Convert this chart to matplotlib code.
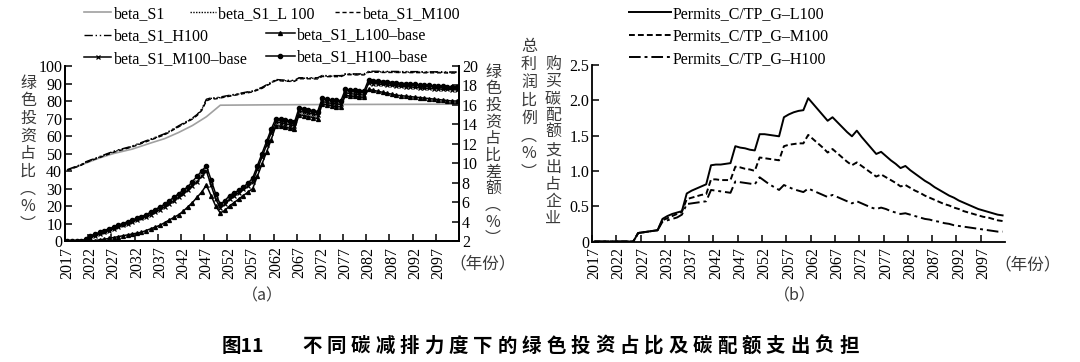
import matplotlib
matplotlib.use('Agg')
import matplotlib.pyplot as plt

W, H = 1080, 362
SERIF = ['Liberation Serif', 'DejaVu Serif']
CJK = ['Noto Sans CJK SC', 'DejaVu Sans']
plt.rcParams['font.family'] = SERIF

# ---------------- data ----------------
years = list(range(2017, 2102))
tick_years = list(range(2017, 2098, 5))
tick_labels = [str(y) for y in tick_years]

s1_years = [2017, 2020, 2024, 2027, 2031, 2035, 2038, 2041, 2044, 2047, 2050, 2060, 2075, 2090, 2101]
beta_S1 = [40.5, 43.5, 47.5, 50.0, 52.5, 56.0, 58.5, 62.0, 66.0, 71.0, 77.6, 77.8, 78.0, 78.1, 78.2]

beta_L100 = [40.5, 41.5, 42.5, 43.5, 45.0,
             46.0, 47.0, 48.0, 49.0, 50.0,
             51.0, 51.8, 52.5, 53.2, 54.0,
             55.0, 56.0, 57.0, 58.0, 59.0,
             60.0, 61.0, 62.5, 64.0, 65.5,
             67.0, 68.5, 70.0, 72.0, 75.0,
             80.5, 81.5, 81.5, 82.0, 82.5,
             83.0, 83.5, 84.0, 84.5, 85.0,
             85.5, 86.5, 87.5, 89.0, 90.5,
             92.0, 91.8, 91.6, 91.5, 91.5,
             93.0, 93.0, 93.0, 93.0, 93.0,
             94.3, 94.2, 94.2, 94.2, 94.2,
             95.3, 95.3, 95.2, 95.2, 95.2,
             96.7, 96.7, 96.7, 96.6, 96.6,
             96.6, 96.6, 96.5, 96.5, 96.5,
             96.5, 96.5, 96.4, 96.4, 96.4,
             96.4, 96.4, 96.3, 96.3, 96.3]
beta_M100 = [40.3, 41.3, 42.3, 43.3, 44.7,
             45.8, 46.8, 47.7, 48.7, 49.7,
             50.7, 51.5, 52.2, 53.0, 53.8,
             54.7, 55.7, 56.7, 57.7, 58.7,
             59.7, 60.7, 62.2, 63.7, 65.2,
             66.7, 68.2, 69.7, 71.7, 74.6,
             80.0, 81.2, 81.2, 81.7, 82.2,
             82.7, 83.2, 83.7, 84.2, 84.7,
             85.2, 86.2, 87.2, 88.7, 90.2,
             91.7, 91.5, 91.3, 91.2, 91.2,
             92.7, 92.7, 92.7, 92.6, 92.6,
             94.0, 93.9, 93.9, 93.9, 93.9,
             95.0, 95.0, 94.9, 94.9, 94.9,
             96.4, 96.4, 96.4, 96.3, 96.3,
             96.3, 96.3, 96.2, 96.2, 96.2,
             96.2, 96.2, 96.1, 96.1, 96.1,
             96.1, 96.1, 96.0, 96.0, 96.0]
beta_H100 = [40.8, 41.8, 42.8, 43.8, 45.3,
             46.3, 47.3, 48.3, 49.3, 50.3,
             51.3, 52.1, 52.8, 53.5, 54.3,
             55.3, 56.3, 57.3, 58.3, 59.3,
             60.3, 61.3, 62.8, 64.3, 65.8,
             67.3, 68.8, 70.3, 72.3, 75.4,
             81.0, 81.8, 81.8, 82.3, 82.8,
             83.3, 83.8, 84.3, 84.8, 85.3,
             85.8, 86.8, 87.8, 89.3, 90.8,
             92.3, 92.1, 91.9, 91.8, 91.8,
             93.3, 93.3, 93.3, 93.3, 93.3,
             94.6, 94.5, 94.5, 94.5, 94.5,
             95.6, 95.6, 95.5, 95.5, 95.5,
             97.0, 97.0, 97.0, 96.9, 96.9,
             96.9, 96.9, 96.8, 96.8, 96.8,
             96.8, 96.8, 96.7, 96.7, 96.7,
             96.7, 96.7, 96.6, 96.6, 96.6]

base_L100 = [2.0, 2.0, 2.0, 2.0, 2.0,
             2.0, 2.05, 2.13, 2.18, 2.27,
             2.36, 2.45, 2.54, 2.63, 2.72,
             2.81, 2.9, 3.08, 3.26, 3.44,
             3.62, 3.89, 4.16, 4.43, 4.7,
             5.06, 5.51, 5.96, 6.5, 7.04,
             7.76, 6.68, 5.6, 4.88, 5.15,
             5.6, 5.96, 6.32, 6.68, 7.04,
             7.4, 8.66, 9.92, 11.18, 12.44,
             13.88, 13.8, 13.7, 13.6, 13.5,
             15.0, 14.9, 14.8, 14.7, 14.6,
             16.1, 16.0, 15.9, 15.8, 15.8,
             17.0, 16.9, 16.9, 16.8, 16.8,
             17.6, 17.5, 17.4, 17.3, 17.2,
             17.1, 17.0, 16.95, 16.9, 16.85,
             16.8, 16.75, 16.7, 16.65, 16.6,
             16.55, 16.5, 16.45, 16.4, 16.4]
base_M100 = [2.0, 2.0, 2.0, 2.0, 2.09,
             2.36, 2.54, 2.72, 2.9, 3.08,
             3.26, 3.44, 3.62, 3.8, 3.98,
             4.16, 4.34, 4.52, 4.7, 4.97,
             5.24, 5.51, 5.78, 6.14, 6.5,
             6.86, 7.22, 7.67, 8.12, 8.66,
             9.2, 7.76, 6.32, 5.42, 5.78,
             6.32, 6.68, 6.95, 7.31, 7.67,
             8.12, 9.38, 10.64, 11.9, 13.16,
             14.24, 14.15, 14.05, 13.95, 13.85,
             15.35, 15.25, 15.15, 15.05, 14.95,
             16.35, 16.25, 16.15, 16.1, 16.05,
             17.25, 17.15, 17.1, 17.05, 17.0,
             18.3, 18.2, 18.15, 18.1, 18.05,
             18.0, 17.95, 17.9, 17.85, 17.85,
             17.8, 17.75, 17.7, 17.7, 17.65,
             17.65, 17.6, 17.6, 17.55, 17.55]
base_H100 = [2.0, 2.0, 2.0, 2.0, 2.18,
             2.54, 2.72, 2.9, 3.08, 3.26,
             3.44, 3.62, 3.8, 3.98, 4.16,
             4.34, 4.52, 4.7, 4.97, 5.24,
             5.51, 5.78, 6.14, 6.5, 6.86,
             7.22, 7.58, 8.12, 8.66, 9.2,
             9.74, 8.3, 6.86, 5.78, 6.14,
             6.68, 6.95, 7.22, 7.58, 7.94,
             8.48, 9.74, 11.0, 12.26, 13.52,
             14.6, 14.5, 14.4, 14.3, 14.2,
             15.7, 15.6, 15.5, 15.4, 15.3,
             16.7, 16.6, 16.5, 16.5, 16.4,
             17.6, 17.5, 17.5, 17.4, 17.4,
             18.6, 18.5, 18.5, 18.4, 18.4,
             18.3, 18.3, 18.2, 18.2, 18.1,
             18.1, 18.0, 18.0, 18.0, 17.9,
             17.9, 17.9, 17.8, 17.8, 17.8]

permits_L100 = [0, 0, 0, 0, 0,
                0, 0, 0, 0, 0.12,
                0.13, 0.14, 0.15, 0.16, 0.32,
                0.36, 0.39, 0.41, 0.43, 0.68,
                0.72, 0.75, 0.78, 0.81, 1.08,
                1.09, 1.09, 1.10, 1.11, 1.35,
                1.33, 1.32, 1.30, 1.29, 1.52,
                1.52, 1.51, 1.50, 1.49, 1.76,
                1.80, 1.83, 1.85, 1.86, 2.03,
                1.95, 1.87, 1.79, 1.71, 1.76,
                1.69, 1.62, 1.55, 1.49, 1.57,
                1.48, 1.40, 1.32, 1.24, 1.27,
                1.21, 1.15, 1.10, 1.04, 1.07,
                1.01, 0.96, 0.91, 0.86, 0.82,
                0.77, 0.73, 0.69, 0.65, 0.62,
                0.58, 0.55, 0.52, 0.49, 0.46,
                0.44, 0.42, 0.40, 0.38, 0.37]
permits_M100 = [0, 0, 0, 0, 0,
                0, 0, 0, 0, 0.12,
                0.13, 0.14, 0.15, 0.16, 0.30,
                0.33, 0.36, 0.39, 0.42, 0.60,
                0.62, 0.64, 0.66, 0.67, 0.88,
                0.88, 0.87, 0.87, 0.87, 1.06,
                1.05, 1.03, 1.02, 1.00, 1.19,
                1.18, 1.17, 1.16, 1.15, 1.35,
                1.37, 1.38, 1.39, 1.39, 1.51,
                1.45, 1.39, 1.33, 1.26, 1.31,
                1.25, 1.19, 1.13, 1.08, 1.12,
                1.07, 1.02, 0.97, 0.92, 0.95,
                0.91, 0.87, 0.83, 0.78, 0.80,
                0.76, 0.72, 0.69, 0.65, 0.62,
                0.59, 0.56, 0.53, 0.51, 0.48,
                0.46, 0.43, 0.41, 0.39, 0.37,
                0.35, 0.34, 0.32, 0.30, 0.29]
permits_H100 = [0, 0, 0, 0, 0,
                0, 0, 0, 0, 0.12,
                0.13, 0.14, 0.15, 0.16, 0.28,
                0.30, 0.32, 0.34, 0.38, 0.53,
                0.54, 0.55, 0.56, 0.57, 0.73,
                0.72, 0.71, 0.70, 0.69, 0.85,
                0.84, 0.83, 0.82, 0.81, 0.91,
                0.86, 0.81, 0.77, 0.73, 0.80,
                0.77, 0.74, 0.72, 0.70, 0.75,
                0.72, 0.69, 0.66, 0.63, 0.66,
                0.63, 0.60, 0.57, 0.54, 0.57,
                0.54, 0.51, 0.48, 0.46, 0.48,
                0.46, 0.43, 0.41, 0.39, 0.40,
                0.38, 0.36, 0.34, 0.32, 0.31,
                0.29, 0.28, 0.26, 0.25, 0.23,
                0.22, 0.21, 0.20, 0.19, 0.18,
                0.17, 0.16, 0.15, 0.14, 0.14]

left_yticks = list(range(0, 101, 10))
right_yticks = list(range(2, 21, 2))
b_yticks = [0, 0.5, 1.0, 1.5, 2.0, 2.5]
b_ylabels = ['0', '0.5', '1.0', '1.5', '2.0', '2.5']

# ---------------- figure ----------------
fig = plt.figure(figsize=(W / 100, H / 100), dpi=100)


def px_rect(x0, y0, x1, y1):
    return [x0 / W, 1 - y1 / H, (x1 - x0) / W, (y1 - y0) / H]


axA = fig.add_axes(px_rect(65, 66, 459, 241))
axA2 = axA.twinx()
axB = fig.add_axes(px_rect(592, 65, 1005, 241.5))

FS = 11.5
K = 'black'


def style_x(ax):
    ax.set_xlim(2016.5, 2101.5)
    ax.set_xticks([y - 0.5 for y in tick_years])
    ax.set_xticklabels([])
    ax.set_xticks(tick_years, minor=True)
    ax.set_xticklabels(tick_labels, minor=True, rotation=90, fontsize=FS)
    ax.tick_params(axis='x', which='major', direction='in', length=5, width=1.1)
    ax.tick_params(axis='x', which='minor', length=0, pad=4)


# ---- panel (a) ----
h_S1, = axA.plot(s1_years, beta_S1, color='#a0a0a0', lw=1.2)
h_L, = axA.plot(years, beta_L100, color=K, lw=1.0, ls=(0, (1, 1)))
h_M, = axA.plot(years, beta_M100, color=K, lw=1.0, ls=(0, (3, 2)))
h_H, = axA.plot(years, beta_H100, color=K, lw=1.0, ls=(0, (6, 2, 1, 2, 1, 2)))

h_Lb, = axA2.plot(years, base_L100, color=K, lw=1.1, marker='^', ms=2.8)
h_Mb, = axA2.plot(years, base_M100, color=K, lw=1.1, marker='x', ms=3.0, mew=0.9)
h_Hb, = axA2.plot(years, base_H100, color=K, lw=1.1, marker='o', ms=3.0)

axA.set_ylim(0, 100)
axA.set_yticks(left_yticks)
axA2.set_ylim(2, 20)
axA2.set_yticks(right_yticks)
style_x(axA)
for ax in (axA, axA2):
    ax.spines['top'].set_visible(False)
    for s in ax.spines.values():
        s.set_linewidth(1.3)
    ax.tick_params(axis='y', direction='in', length=5, width=1.1, labelsize=FS, pad=2)

# ---- panel (b) ----
hp_L, = axB.plot(years, permits_L100, color=K, lw=1.4)
hp_M, = axB.plot(years, permits_M100, color=K, lw=1.4, ls=(0, (3, 1.6)))
hp_H, = axB.plot(years, permits_H100, color=K, lw=1.4, ls=(0, (6, 2, 1.5, 2)))
axB.set_ylim(0, 2.5)
axB.set_yticks(b_yticks)
axB.set_yticklabels(b_ylabels)
style_x(axB)
axB.spines['top'].set_visible(False)
axB.spines['right'].set_visible(False)
for s in axB.spines.values():
    s.set_linewidth(1.3)
axB.tick_params(axis='y', direction='in', length=5, width=1.1, labelsize=FS, pad=2)

# ---- legends ----
lp = dict(family=SERIF, size=FS)
common = dict(frameon=False, prop=lp, handletextpad=0.15, labelspacing=0.4,
              borderpad=0, borderaxespad=0, loc='upper left')
fig.legend([h_S1, h_H, h_Mb], ['beta_S1', 'beta_S1_H100', 'beta_S1_M100\u2013base'],
           bbox_to_anchor=(84 / W, 1 - 6 / H), handlelength=1.7, **common)
fig.legend([h_L, h_M], ['beta_S1_L 100', 'beta_S1_M100'], ncol=2, columnspacing=1.3,
           bbox_to_anchor=(190 / W, 1 - 6 / H), handlelength=1.6, **common)
fig.legend([h_Lb, h_Hb], ['beta_S1_L100\u2013base', 'beta_S1_H100\u2013base'],
           bbox_to_anchor=(266 / W, 1 - 27 / H), handlelength=1.8, **common)
fig.legend([hp_L, hp_M, hp_H],
           ['Permits_C/TP_G\u2013L100', 'Permits_C/TP_G\u2013M100', 'Permits_C/TP_G\u2013H100'],
           bbox_to_anchor=(629 / W, 1 - 6 / H), handlelength=2.6, **common)

# ---- vertical Chinese labels ----
LC = '#3a3a3a'


def vtext(x, y0, chars, step, size=11.5, color=LC):
    y = y0
    for ch in chars:
        fig.text(x / W, 1 - y / H, ch, ha='center', va='center', fontsize=size,
                 family=CJK, color=color)
        y += step


vtext(28, 83, '绿色投资占比︵%︶', 17.7)
vtext(493, 72, '绿色投资占比差额︵%︶', 16.7)
vtext(529, 46, '总利润比例︵%︶', 18.0)
vtext(553, 64, '购买碳配额支出占企业', 17.2)

# year unit labels
fig.text(483 / W, 1 - 264 / H, '（年份）', ha='center', va='center', fontsize=12, family=CJK, color=LC)
fig.text(1028 / W, 1 - 265 / H, '（年份）', ha='center', va='center', fontsize=12, family=CJK, color=LC)

# panel tags
fig.text(262 / W, 1 - 296 / H, '（a）', ha='center', va='center', fontsize=11.5, family=CJK, color=LC)
fig.text(795 / W, 1 - 296 / H, '（b）', ha='center', va='center', fontsize=11.5, family=CJK, color=LC)

# caption
fig.text(243 / W, 1 - 346 / H, '图11', ha='center', va='center', fontsize=14,
         family=CJK, weight='bold', color=K)
cap = '不同碳减排力度下的绿色投资占比及碳配额支出负担'
for i, ch in enumerate(cap):
    fig.text((312 + i * 24.4) / W, 1 - 346 / H, ch, ha='center', va='center', fontsize=14,
             family=CJK, weight='bold', color=K)

fig.savefig('out.png', dpi=100)
